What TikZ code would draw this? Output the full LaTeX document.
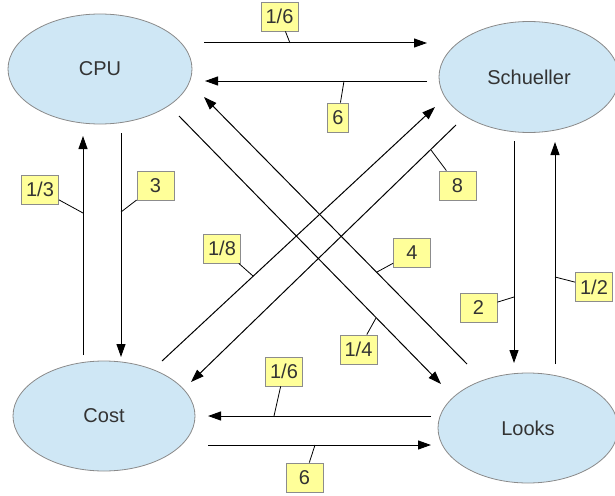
\documentclass[tikz,border=0pt]{standalone}
\usepackage{fontspec}
\setmainfont{Liberation Sans}
\usetikzlibrary{arrows.meta,shapes.geometric}
\definecolor{stateblue}{HTML}{CFE7F5}
\definecolor{stateedge}{HTML}{8A8A8A}
\definecolor{tagfill}{HTML}{FFFF99}
\definecolor{tagedge}{HTML}{8C8C8C}
\definecolor{ink}{HTML}{333333}
\begin{document}
\begin{tikzpicture}[x=1pt,y=-1pt,
  state/.style={ellipse, draw=stateedge, fill=stateblue, line width=0.8pt,
    inner sep=0pt, text=ink, font=\fontsize{20}{24}\selectfont},
  flow/.style={-{Triangle[length=13pt,width=9pt]}, line width=1pt, black},
  tag/.style={rectangle, draw=tagedge, fill=tagfill, line width=0.8pt,
    minimum width=37pt, minimum height=29pt, inner sep=0pt, text=ink,
    font=\fontsize{20}{24}\selectfont},
  leader/.style={line width=0.8pt, black}]
\useasboundingbox (0,0) rectangle (615,495);

% the four factors
\node[state, minimum width=184pt, minimum height=110pt] (cpu) at (100,69) {CPU};
\node[state, minimum width=180pt, minimum height=111pt] (sch) at (529,77) {Schueller};
\node[state, minimum width=182pt, minimum height=110pt] (cost) at (104,416) {Cost};
\node[state, minimum width=180pt, minimum height=110pt] (looks) at (528,428) {Looks};

% connector end points
\coordinate (t1s) at (204,43);  \coordinate (t1e) at (427,43);
\coordinate (t2s) at (427,81);  \coordinate (t2e) at (205,81);
\coordinate (l1s) at (83,355);  \coordinate (l1e) at (83,136);
\coordinate (l2s) at (121,133); \coordinate (l2e) at (121,357);
\coordinate (r1s) at (514,141); \coordinate (r1e) at (514,363);
\coordinate (r2s) at (555,364); \coordinate (r2e) at (555,142);
\coordinate (das) at (179,116); \coordinate (dae) at (441,384);
\coordinate (dbs) at (467,364); \coordinate (dbe) at (204,97);
\coordinate (dcs) at (162,361); \coordinate (dce) at (435,107);
\coordinate (dds) at (456,125); \coordinate (dde) at (191,382);
\coordinate (b1s) at (431,416); \coordinate (b1e) at (208,416);
\coordinate (b2s) at (208,445); \coordinate (b2e) at (431,445);

% pairwise comparisons
\draw[flow] (t1s) -- (t1e);
\draw[flow] (t2s) -- (t2e);
\draw[flow] (l1s) -- (l1e);
\draw[flow] (l2s) -- (l2e);
\draw[flow] (r1s) -- (r1e);
\draw[flow] (r2s) -- (r2e);
\draw[flow] (das) -- (dae);
\draw[flow] (dbs) -- (dbe);
\draw[flow] (dcs) -- (dce);
\draw[flow] (dds) -- (dde);
\draw[flow] (b1s) -- (b1e);
\draw[flow] (b2s) -- (b2e);

% points where the weight tags attach
\coordinate (p1) at (290,43);
\coordinate (p2) at (344,81);
\coordinate (p3) at (83,213);
\coordinate (p4) at (121,212);
\coordinate (p5) at (431,150);
\coordinate (p6) at (253,276);
\coordinate (p7) at (377,272);
\coordinate (p8) at (514,297);
\coordinate (p9) at (555,277);
\coordinate (p10) at (376,318);
\coordinate (p11) at (274,416);
\coordinate (p12) at (315,445);

% weights
\node[tag] (w1) at (279.5,16.5) {1/6};
\node[tag, minimum width=21pt] (w2) at (338,117.5) {6};
\node[tag] (w3) at (40,189.5) {1/3};
\node[tag] (w4) at (155.5,185.5) {3};
\node[tag] (w5) at (457.5,185.5) {8};
\node[tag] (w6) at (222,248.5) {1/8};
\node[tag] (w7) at (412,253) {4};
\node[tag] (w8) at (478.5,308) {2};
\node[tag] (w9) at (594,287) {1/2};
\node[tag] (w10) at (358.5,349.5) {1/4};
\node[tag] (w11) at (284,371.5) {1/6};
\node[tag] (w12) at (304.5,477.5) {6};

\draw[leader] (w1) -- (p1);
\draw[leader] (w2) -- (p2);
\draw[leader] (w3) -- (p3);
\draw[leader] (w4) -- (p4);
\draw[leader] (w5) -- (p5);
\draw[leader] (w6) -- (p6);
\draw[leader] (w7) -- (p7);
\draw[leader] (w8) -- (p8);
\draw[leader] (w9) -- (p9);
\draw[leader] (w10) -- (p10);
\draw[leader] (w11) -- (p11);
\draw[leader] (w12) -- (p12);
\end{tikzpicture}
\end{document}
